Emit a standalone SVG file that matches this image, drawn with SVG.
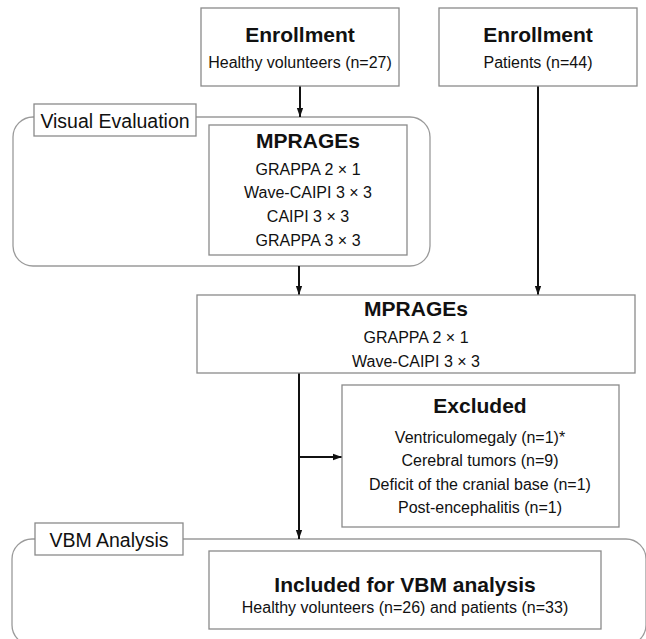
<svg xmlns="http://www.w3.org/2000/svg" width="646" height="639" viewBox="0 0 646 639">
<defs>
<style>
.box{fill:#fff;stroke:#8a8a8a;stroke-width:1.3}
.grp{fill:none;stroke:#9a9a9a;stroke-width:1.3}
.t{font-family:"Liberation Sans",Arial,sans-serif;fill:#111;text-anchor:middle}
.h{font-size:21px;font-weight:bold}
.s{font-size:16px}
.l{font-size:19.5px}
.c{fill:none;stroke:#111;stroke-width:2}
</style>
<marker id="ah" markerUnits="userSpaceOnUse" markerWidth="9" markerHeight="9" viewBox="0 0 10 10" refX="10" refY="5" orient="auto">
<path d="M0,1.5 L10,5 L0,8.5 Z" fill="#111"/>
</marker>
</defs>
<rect width="646" height="639" fill="#fff"/>

<g id="group-visual">
<rect class="grp" x="13" y="117" width="417" height="149" rx="20"/>
<rect class="box" x="34" y="104" width="162" height="32"/>
<text class="t l" x="115" y="128">Visual Evaluation</text>
</g>

<g id="group-vbm">
<rect class="grp" x="12" y="539" width="634" height="106" rx="20"/>
<rect class="box" x="35" y="523" width="148" height="32"/>
<text class="t l" x="109" y="547">VBM Analysis</text>
</g>

<g id="connectors">
<path class="c" d="M300,86 V117" marker-end="url(#ah)"/>
<path class="c" d="M299,266 V295" marker-end="url(#ah)"/>
<path class="c" d="M538,86 V295" marker-end="url(#ah)"/>
<path class="c" d="M299,373 V539" marker-end="url(#ah)"/>
<path class="c" d="M299,457 H342" marker-end="url(#ah)"/>
</g>

<g id="enroll-healthy">
<rect class="box" x="201" y="8" width="198" height="78"/>
<text class="t h" x="300" y="42">Enrollment</text>
<text class="t s" x="300" y="68">Healthy volunteers (n=27)</text>
</g>

<g id="enroll-patients">
<rect class="box" x="439" y="8" width="198" height="78"/>
<text class="t h" x="538" y="42">Enrollment</text>
<text class="t s" x="538" y="68">Patients (n=44)</text>
</g>

<g id="mprage-visual">
<rect class="box" x="209" y="125" width="198" height="130"/>
<text class="t h" x="308" y="148">MPRAGEs</text>
<text class="t s" x="308" y="175">GRAPPA 2 × 1</text>
<text class="t s" x="308" y="198">Wave-CAIPI 3 × 3</text>
<text class="t s" x="308" y="222">CAIPI 3 × 3</text>
<text class="t s" x="308" y="246">GRAPPA 3 × 3</text>
</g>

<g id="mprage-all">
<rect class="box" x="197" y="295" width="438" height="78"/>
<text class="t h" x="416" y="316">MPRAGEs</text>
<text class="t s" x="416" y="343">GRAPPA 2 × 1</text>
<text class="t s" x="416" y="367">Wave-CAIPI 3 × 3</text>
</g>

<g id="excluded">
<rect class="box" x="342" y="385" width="277" height="142"/>
<text class="t h" x="480" y="413">Excluded</text>
<text class="t s" x="480" y="443">Ventriculomegaly (n=1)*</text>
<text class="t s" x="480" y="466">Cerebral tumors (n=9)</text>
<text class="t s" x="480" y="490">Deficit of the cranial base (n=1)</text>
<text class="t s" x="480" y="513">Post-encephalitis (n=1)</text>
</g>

<g id="included">
<rect class="box" x="209" y="551" width="392" height="78"/>
<text class="t h" x="405" y="592">Included for VBM analysis</text>
<text class="t s" x="405" y="613">Healthy volunteers (n=26) and patients (n=33)</text>
</g>
</svg>
